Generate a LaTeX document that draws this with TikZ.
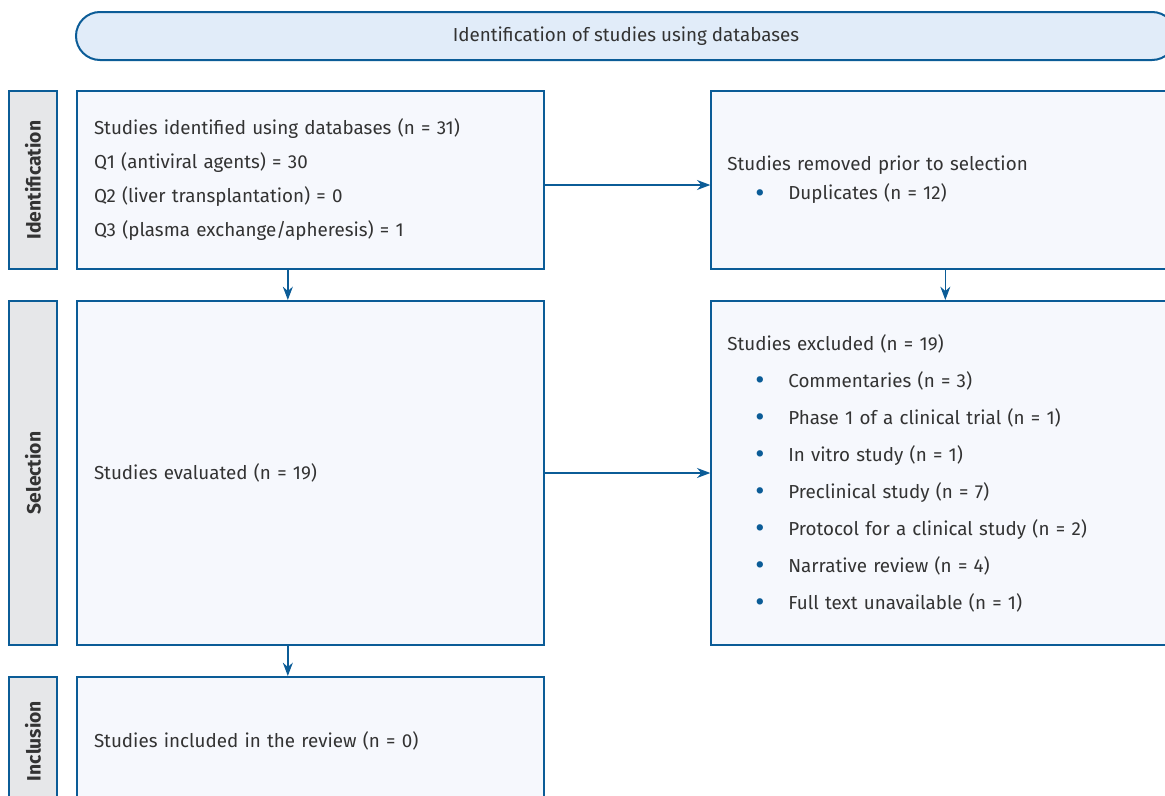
\documentclass[tikz,border=0pt]{standalone}
\usepackage{fontspec}
\setmainfont{Fira Sans}
\usepackage{graphicx}
\usepackage{xcolor}
\usepackage{tikz}
\usetikzlibrary{arrows.meta,positioning,calc}
\definecolor{prismablue}{HTML}{0B5C97}
\definecolor{prismafill}{HTML}{F6F8FD}
\definecolor{stagefill}{HTML}{E6E7E9}
\definecolor{headfill}{HTML}{E1ECF9}
\definecolor{prismatext}{HTML}{333333}
\newcommand{\bulletitem}[1]{\makebox[45.75pt][l]{\hspace{21pt}\textcolor{prismablue}{\raisebox{-2pt}{\scalebox{1.5}{\textbullet}}}}#1}
\tikzset{
  prismahead/.style={rectangle, rounded corners=18pt, draw=prismablue, fill=headfill, line width=1.5pt, text=prismatext, minimum width=825pt, minimum height=36pt, font=\fontsize{14.1}{17}\selectfont},
  prismastage/.style={rectangle, draw=prismablue, fill=stagefill, line width=1.5pt, text=prismatext, minimum width=36pt, inner sep=0pt, font=\bfseries\fontsize{14.5}{16}\selectfont},
  prismaleft/.style={rectangle, draw=prismablue, fill=prismafill, line width=1.5pt, text=prismatext, align=left, inner xsep=12.75pt, text width=324.75pt, font=\fontsize{14.1}{25.5}\selectfont},
  prismaright/.style={rectangle, draw=prismablue, fill=prismafill, line width=1.5pt, text=prismatext, align=left, inner xsep=12pt, text width=327pt, font=\fontsize{14.1}{25.5}\selectfont},
  prismaarrow/.style={-{Stealth[length=10pt,width=7.5pt]}, draw=prismablue, line width=1pt}
}
\begin{document}
\begin{tikzpicture}[x=0.75pt, y=-0.75pt]
\useasboundingbox (0,0) rectangle (1165,796);
\clip (0,0) rectangle (1165,796);
\node[prismahead] (head) at (626,36) {Identification of studies using databases};
\node[prismaleft, anchor=north west, minimum height=133.5pt] (ident) at (76,90) {Studies identified using databases (n = 31)\\Q1 (antiviral agents) = 30\\Q2 (liver transplantation) = 0\\Q3 (plasma exchange/apheresis) = 1};
\node[prismaleft, below=22.5pt of ident, minimum height=258pt] (evaluated) {Studies evaluated (n = 19)};
\node[prismaleft, below=22.5pt of evaluated, minimum height=96pt] (included) {Studies included in the review (n = 0)};
\node[prismaright, right=124pt of ident, minimum height=133.5pt, font=\fontsize{14.1}{21.75}\selectfont] (removed) {Studies removed prior to selection\\\bulletitem{Duplicates (n = 12)}};
\node[prismaright, below=22.5pt of removed, minimum height=258pt, font=\fontsize{14.1}{27.75}\selectfont] (excluded) {Studies excluded (n = 19)\\\bulletitem{Commentaries (n = 3)}\\\bulletitem{Phase 1 of a clinical trial (n = 1)}\\\bulletitem{In vitro study (n = 1)}\\\bulletitem{Preclinical study (n = 7)}\\\bulletitem{Protocol for a clinical study (n = 2)}\\\bulletitem{Narrative review (n = 4)}\\\bulletitem{Full text unavailable (n = 1)}};
\node[prismastage, left=13.5pt of ident, minimum height=133.5pt] (stageid) {\rotatebox{90}{Identification}};
\node[prismastage, left=13.5pt of evaluated, minimum height=258pt] (stagesel) {\rotatebox{90}{Selection}};
\node[prismastage, left=13.5pt of included, minimum height=96pt] (stageinc) {\rotatebox{90}{Inclusion}};
\draw[prismaarrow] ([yshift=-3.75pt]ident.east) -- ([yshift=-3.75pt]removed.west);
\draw[prismaarrow] (evaluated) -- (excluded);
\draw[prismaarrow] ([xshift=-17pt]ident.south) -- ([xshift=-17pt]evaluated.north);
\draw[prismaarrow] ([xshift=-17pt]evaluated.south) -- ([xshift=-17pt]included.north);
\draw[prismaarrow] (removed) -- (excluded);
\end{tikzpicture}
\end{document}
